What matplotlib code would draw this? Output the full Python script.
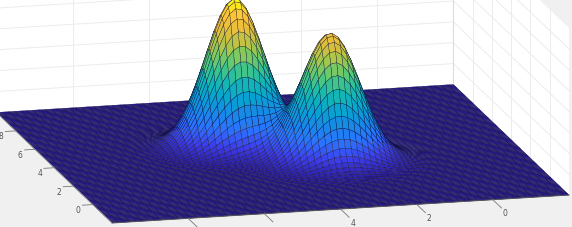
import numpy as np
import matplotlib
matplotlib.use('Agg')
import matplotlib.pyplot as plt
from matplotlib.colors import LinearSegmentedColormap
from mpl_toolkits.mplot3d import proj3d
from mpl_toolkits.mplot3d.art3d import Poly3DCollection

# axis ranges and ticks
x_range = [-2, 10]
y_range = [-2, 10]
z_range = [0, 0.8]
x_step = 0.16
y_step = 0.125
x_ticks = [0, 2, 4, 6, 8]
x_labels = [0, 2, 4]
y_ticks = [0, 2, 4, 6, 8]
z_ticks = [0.1, 0.2, 0.3, 0.4, 0.5, 0.6, 0.7]
wall_x_ticks = [0, 2, 4, 6, 8, 10]
wall_y_ticks = [0, 2, 4, 6, 8]

# the surface has too many cells to read one by one, so it is rebuilt from the
# two bumps: centre, height and spread
peak_x = [5, 3]
peak_y = [5, 3]
peak_height = [0.71, 0.61]
peak_sigma = [0.76, 0.76]

parula = LinearSegmentedColormap.from_list('parula', [
    (0.170, 0.100, 0.600), (0.240, 0.240, 0.920), (0.170, 0.450, 1.000),
    (0.090, 0.540, 0.900), (0.024, 0.650, 0.810), (0.090, 0.730, 0.680),
    (0.330, 0.790, 0.470), (0.640, 0.780, 0.300), (0.880, 0.740, 0.240),
    (0.990, 0.760, 0.220), (0.976, 0.984, 0.055)])

GRID = '#ececec'
BG = '#f0f0f0'

fig = plt.figure(figsize=(5.72, 2.27), dpi=100, facecolor=BG)
ax = fig.add_axes([0.1, 0.0, 2.27 / 5.72, 1.0], projection='3d', proj_type='ortho')
ax.view_init(elev=14, azim=-104.2)
ax.set_box_aspect((1, 1, 0.365))
ax.set_xlim(x_range[1], x_range[0])
ax.set_ylim(y_range)
ax.set_zlim(z_range)
ax.set_axis_off()
ax.patch.set_alpha(0)
ax.computed_zorder = False

x0, x1 = x_range
y0, y1 = y_range
z0, z1 = z_range

# white back walls and floor
walls = [[(x0, y0, z0), (x0, y1, z0), (x0, y1, z1), (x0, y0, z1)],
         [(x0, y1, z0), (x1, y1, z0), (x1, y1, z1), (x0, y1, z1)]]
ax.add_collection3d(Poly3DCollection(walls, facecolor='white', edgecolor='none', zorder=1))

for z in z_ticks:
    ax.plot([x0, x0, x1], [y0, y1, y1], [z, z, z], color=GRID, lw=0.7, zorder=2)
for x in wall_x_ticks:
    ax.plot([x, x], [y1, y1], [z0, z1], color=GRID, lw=0.7, zorder=2)
for y in wall_y_ticks:
    ax.plot([x0, x0], [y, y], [z0, z1], color=GRID, lw=0.7, zorder=2)
ax.plot([x0, x0], [y1, y1], [z0, z1], color='#dcdcdc', lw=0.8, zorder=2)

# surface
xs = np.arange(x0, x1 + x_step / 2, x_step)
ys = np.arange(y0, y1 + y_step / 2, y_step)
X, Y = np.meshgrid(xs, ys)
Z = np.zeros_like(X)
for px, py, h, s in zip(peak_x, peak_y, peak_height, peak_sigma):
    Z += h * np.exp(-((X - px) ** 2 + (Y - py) ** 2) / (2 * s ** 2))
ax.plot_surface(X, Y, Z, rstride=1, cstride=1, cmap=parula, vmin=0, vmax=max(peak_height),
                edgecolor='#0c0c30', linewidth=0.22, shade=False, zorder=3)

# axis lines, ticks, labels
ax.plot([x1, x0], [y0, y0], [z0, z0], color='#555555', lw=0.7, zorder=4)
ax.plot([x1, x1], [y0, y1], [z0, z0], color='#999999', lw=0.6, zorder=4)
for x in x_ticks:
    ax.plot([x, x], [y0, y0 - 0.9], [z0, z0], color='#777777', lw=0.6, zorder=4)
for x in x_labels:
    ax.text(x, y0 - 1.3, z0 - 0.01, str(x), color='#555555', fontsize=5.5,
            ha='center', va='center', zorder=5)
for y in y_ticks:
    ax.plot([x1, x1 + 0.27], [y, y], [z0, z0], color='#777777', lw=0.6, zorder=4)
    ax.text(x1 + 0.38, y, z0 - 0.025, str(y), color='#555555', fontsize=5.5,
            ha='center', va='center', zorder=5)


def to_pixels(x, y, z):
    u, v, _ = proj3d.proj_transform(x, y, z, ax.get_proj())
    return ax.transData.transform((u, v))


# place the axes so the floor corners land where they are in the picture
fig.canvas.draw()
a = to_pixels(x1, y0, z0)
b = to_pixels(x0, y0, z0)
pos = ax.get_position()
W, H = fig.bbox.width, fig.bbox.height
scale = 457 / (b[0] - a[0])
side = pos.width * W * scale
left = 112 - (a[0] - pos.x0 * W) * scale
bottom = (H - 223) - (a[1] - pos.y0 * H) * scale
ax.set_position([left / W, bottom / H, side / W, side / H])

fig.savefig('out.png', dpi=100, facecolor=BG)
